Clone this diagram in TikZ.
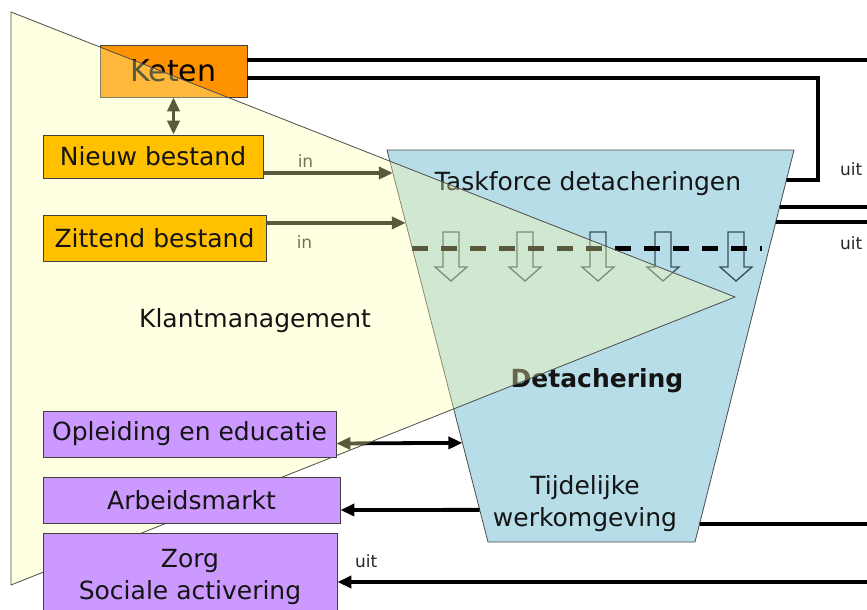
\documentclass[tikz,border=0pt]{standalone}
\usepackage{fontspec}
\setmainfont{DejaVu Sans}
\usetikzlibrary{arrows.meta,calc}

\definecolor{ketenorange}{RGB}{255,146,0}
\definecolor{bestandgold}{RGB}{255,192,0}
\definecolor{routepurple}{RGB}{204,153,255}
\definecolor{detblue}{RGB}{183,221,232}
\definecolor{klantyellow}{RGB}{255,255,170}
\definecolor{pijlgrey}{RGB}{55,80,90}

\pgfdeclarelayer{lower}
\pgfdeclarelayer{veil}
\pgfsetlayers{lower,veil,main}

\begin{document}
\begin{tikzpicture}[x=1pt, y=-1pt,
  box/.style={draw=black!75, line width=0.8pt, inner sep=0pt, text=black!92,
    font=\fontsize{25}{32}\selectfont, align=center},
  bigtext/.style={font=\fontsize{25}{32}\selectfont, text=black!92, inner sep=0pt},
  smalltext/.style={font=\fontsize{17}{20}\selectfont, text=black!85, inner sep=0pt},
  link/.style={line width=3.8pt},
  headed/.style={-{Triangle[length=14pt,width=12pt]}},
  twoheaded/.style={{Triangle[length=14pt,width=12pt]}-{Triangle[length=14pt,width=12pt]}}]

  \useasboundingbox (0,0) rectangle (867,610);

  % boxes in front of the triangle
  \node[box, fill=bestandgold, minimum width=220pt, minimum height=43pt] (nieuw) at (153,156.5) {Nieuw bestand};
  \node[box, fill=bestandgold, minimum width=223pt, minimum height=46pt] (zittend) at (154.5,238) {Zittend bestand};
  \node[box, fill=routepurple, minimum width=293pt, minimum height=46pt] (opleiding) at (189.5,434) {Opleiding en educatie};
  \node[box, fill=routepurple, minimum width=297pt, minimum height=46pt] (arbeid) at (191.5,500) {Arbeidsmarkt};
  \node[box, fill=routepurple, minimum width=294pt, minimum height=88pt] (zorg) at (190,577) {Zorg\\Sociale activering};
  \node[bigtext, anchor=base] (klant) at (255,327) {Klantmanagement};

  \node[smalltext, anchor=base west] (uit1) at (840,175) {uit};
  \node[smalltext, anchor=base west] (uit2) at (840,249) {uit};
  \node[smalltext, anchor=base west] (uit3) at (355,567) {uit};

  % right edge
  \coordinate (rand1) at (867,60);
  \coordinate (rand2) at (867,207);
  \coordinate (rand3) at (867,222);
  \coordinate (rand4) at (867,524);
  \coordinate (rand5) at (867,582);
  \coordinate (knik) at (818,180);

  \begin{pgfonlayer}{lower}
    \node[box, fill=ketenorange, minimum width=147pt, minimum height=52pt,
      font=\fontsize{30}{36}\selectfont, text=black] (keten) at (173.5,71) {Keten};

    % Detachering trapezium
    \coordinate (tl) at (387,150);
    \coordinate (tr) at (794,150);
    \coordinate (br) at (695,542);
    \coordinate (bl) at (488,542);
    \draw[fill=detblue, draw=black!70, line width=0.8pt] (tl) -- (tr) -- (br) -- (bl) -- cycle;

    \coordinate (l173) at ($(tl)!0.0587!(bl)$);
    \coordinate (l223) at ($(tl)!0.186!(bl)$);
    \coordinate (l443) at ($(tl)!0.747!(bl)$);
    \coordinate (l510) at ($(tl)!0.918!(bl)$);
    \coordinate (r180) at ($(tr)!0.0765!(br)$);
    \coordinate (r207) at ($(tr)!0.1454!(br)$);
    \coordinate (r222) at ($(tr)!0.1837!(br)$);
    \coordinate (r524) at ($(tr)!0.954!(br)$);

    \node[bigtext, anchor=base] (taskforce) at (588,190) {Taskforce detacheringen};
    \node[bigtext, anchor=base, font=\fontsize{25}{32}\selectfont\bfseries] (detach) at (597,387) {Detachering};
    \node[bigtext, align=center] (werk) at (585,503.5) {Tijdelijke\\werkomgeving};

    % hollow arrows and the dashed line
    \foreach \ax in {451,525,598,663,736}
      \draw[pijlgrey, line width=1.3pt] ({\ax-8},232) -- ({\ax+8},232) -- ({\ax+8},267)
        -- ({\ax+16},267) -- (\ax,281) -- ({\ax-16},267) -- ({\ax-8},267) -- cycle;
    \draw[line width=5pt, dash pattern=on 16pt off 13pt] (412,248) -- (762,248);

    \node[smalltext, anchor=base] (in1) at (305.5,167) {in};
    \node[smalltext, anchor=base] (in2) at (304.5,248) {in};

    % connectors
    \draw[link] ($(keten.east)+(0,-11)$) -- (rand1);
    \draw[link] ($(keten.east)+(0,7)$) -| (knik) -- (r180);
    \draw[link, twoheaded] (keten.south) -- (keten.south |- nieuw.north);
    \draw[link, headed] ($(nieuw.east)+(0,16.5)$) -- (l173);
    \draw[link, headed] ($(zittend.east)+(0,-15)$) -- (l223);
    \draw[link] (r207) -- (rand2);
    \draw[link] (r222) -- (rand3);
    \draw[link, twoheaded] ($(opleiding.east)+(0,9.5)$) -- (l443);
    \draw[link, headed] (l510) -- ($(arbeid.east)+(0,10)$);
    \draw[link] (r524) -- (rand4);
    \draw[link, headed] (rand5) -- ($(zorg.east)+(0,5)$);
  \end{pgfonlayer}

  % Klantmanagement triangle
  \begin{pgfonlayer}{veil}
    \draw[fill=klantyellow, fill opacity=0.35, draw=black!70, line width=0.8pt]
      (11,12) -- (735,297) -- (11,585) -- cycle;
  \end{pgfonlayer}
\end{tikzpicture}
\end{document}
